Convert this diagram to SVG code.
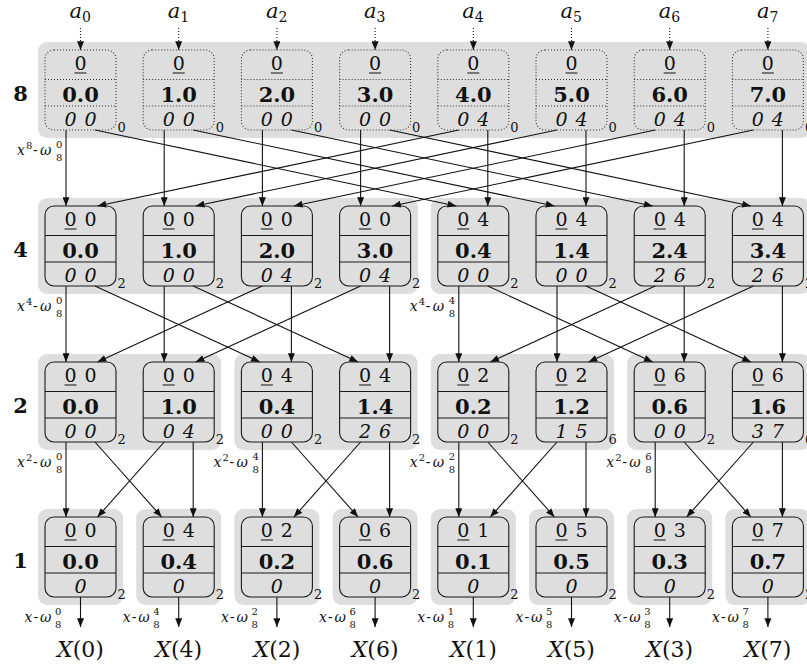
<svg xmlns="http://www.w3.org/2000/svg" width="807" height="671" viewBox="0 0 807 671">
<style>
.bg{fill:#dedede}
.nd{fill:none;stroke:#1a1a1a;stroke-width:1.1}
.dt{fill:none;stroke:#333;stroke-width:1.1;stroke-dasharray:1 2}
.r1{font-family:"DejaVu Serif",serif;font-size:19px;text-anchor:middle;fill:#111}
.r2{font-family:"DejaVu Serif",serif;font-weight:bold;font-size:21px;text-anchor:middle;fill:#111}
.r3{font-family:"DejaVu Serif",serif;font-style:italic;font-size:19px;text-anchor:middle;fill:#111}
.sb{font-family:"DejaVu Serif",serif;font-size:13px;fill:#111}
.ul{stroke:#111;stroke-width:1}
.cn line{stroke:#111;stroke-width:1.1;marker-end:url(#ah)}
.cn line.in{stroke-dasharray:1 2}
.lv{font-family:"DejaVu Serif",serif;font-weight:bold;font-size:21px;text-anchor:middle;fill:#111}
.w{font-family:"DejaVu Serif",serif;font-size:14px;fill:#111}
.i{font-style:italic}
.s{font-size:10px;font-style:normal}
.al{font-family:"DejaVu Serif",serif;font-size:21px;font-style:italic;fill:#111}
.as{font-size:14px;font-style:normal}
.X{font-family:"DejaVu Serif",serif;font-size:22px;text-anchor:middle;fill:#111}
</style>
<defs>
<marker id="ah" viewBox="0 0 10 8" refX="10" refY="4" markerWidth="9" markerHeight="7" markerUnits="userSpaceOnUse" orient="auto"><path d="M0,0 L10,4 L0,8 z" fill="#111"/></marker>
</defs>

<g id="backgrounds">
<rect class="bg" x="38" y="42" width="772" height="96" rx="9"/>
<rect class="bg" x="38" y="198" width="380" height="96" rx="9"/>
<rect class="bg" x="430.8" y="198" width="380" height="96" rx="9"/>
<rect class="bg" x="38" y="354" width="183.2" height="96" rx="9"/>
<rect class="bg" x="234.4" y="354" width="183.2" height="96" rx="9"/>
<rect class="bg" x="430.8" y="354" width="183.2" height="96" rx="9"/>
<rect class="bg" x="627.2" y="354" width="183.2" height="96" rx="9"/>
<rect class="bg" x="38" y="509" width="85" height="96" rx="9"/>
<rect class="bg" x="136.2" y="509" width="85" height="96" rx="9"/>
<rect class="bg" x="234.4" y="509" width="85" height="96" rx="9"/>
<rect class="bg" x="332.6" y="509" width="85" height="96" rx="9"/>
<rect class="bg" x="430.8" y="509" width="85" height="96" rx="9"/>
<rect class="bg" x="529" y="509" width="85" height="96" rx="9"/>
<rect class="bg" x="627.2" y="509" width="85" height="96" rx="9"/>
<rect class="bg" x="725.4" y="509" width="85" height="96" rx="9"/>
</g>

<g id="level-labels">
<text class="lv" x="20.5" y="101">8</text>
<text class="lv" x="20.5" y="257">4</text>
<text class="lv" x="20.5" y="413">2</text>
<text class="lv" x="20.5" y="568">1</text>
</g>

<g id="inputs">
<text class="al" y="18"><tspan x="69.5">a</tspan><tspan class="as" x="82" y="22">0</tspan></text>
<text class="al" y="18"><tspan x="167.7">a</tspan><tspan class="as" x="180.2" y="22">1</tspan></text>
<text class="al" y="18"><tspan x="265.9">a</tspan><tspan class="as" x="278.4" y="22">2</tspan></text>
<text class="al" y="18"><tspan x="364.1">a</tspan><tspan class="as" x="376.6" y="22">3</tspan></text>
<text class="al" y="18"><tspan x="462.3">a</tspan><tspan class="as" x="474.8" y="22">4</tspan></text>
<text class="al" y="18"><tspan x="560.5">a</tspan><tspan class="as" x="573" y="22">5</tspan></text>
<text class="al" y="18"><tspan x="658.7">a</tspan><tspan class="as" x="671.2" y="22">6</tspan></text>
<text class="al" y="18"><tspan x="756.9">a</tspan><tspan class="as" x="769.4" y="22">7</tspan></text>
</g>

<g id="connectors" class="cn">
<line class="in" x1="80.5" y1="28" x2="80.5" y2="50"/>
<line class="in" x1="178.7" y1="28" x2="178.7" y2="50"/>
<line class="in" x1="276.9" y1="28" x2="276.9" y2="50"/>
<line class="in" x1="375.1" y1="28" x2="375.1" y2="50"/>
<line class="in" x1="473.3" y1="28" x2="473.3" y2="50"/>
<line class="in" x1="571.5" y1="28" x2="571.5" y2="50"/>
<line class="in" x1="669.7" y1="28" x2="669.7" y2="50"/>
<line class="in" x1="767.9" y1="28" x2="767.9" y2="50"/>

<line x1="66" y1="130" x2="66" y2="206"/>
<line x1="95" y1="130" x2="456.3" y2="206"/>
<line x1="164.2" y1="130" x2="164.2" y2="206"/>
<line x1="193.2" y1="130" x2="554.5" y2="206"/>
<line x1="262.4" y1="130" x2="262.4" y2="206"/>
<line x1="291.4" y1="130" x2="652.7" y2="206"/>
<line x1="360.6" y1="130" x2="360.6" y2="206"/>
<line x1="389.6" y1="130" x2="750.9" y2="206"/>
<line x1="487.8" y1="130" x2="487.8" y2="206"/>
<line x1="458.8" y1="130" x2="97.5" y2="206"/>
<line x1="586" y1="130" x2="586" y2="206"/>
<line x1="557" y1="130" x2="195.7" y2="206"/>
<line x1="684.2" y1="130" x2="684.2" y2="206"/>
<line x1="655.2" y1="130" x2="293.9" y2="206"/>
<line x1="782.4" y1="130" x2="782.4" y2="206"/>
<line x1="753.4" y1="130" x2="392.1" y2="206"/>

<line x1="66" y1="286" x2="66" y2="362"/>
<line x1="95" y1="286" x2="259.9" y2="362"/>
<line x1="164.2" y1="286" x2="164.2" y2="362"/>
<line x1="193.2" y1="286" x2="358.1" y2="362"/>
<line x1="291.4" y1="286" x2="291.4" y2="362"/>
<line x1="262.4" y1="286" x2="97.5" y2="362"/>
<line x1="389.6" y1="286" x2="389.6" y2="362"/>
<line x1="360.6" y1="286" x2="195.7" y2="362"/>
<line x1="458.8" y1="286" x2="458.8" y2="362"/>
<line x1="487.8" y1="286" x2="652.7" y2="362"/>
<line x1="557" y1="286" x2="557" y2="362"/>
<line x1="586" y1="286" x2="750.9" y2="362"/>
<line x1="684.2" y1="286" x2="684.2" y2="362"/>
<line x1="655.2" y1="286" x2="490.3" y2="362"/>
<line x1="782.4" y1="286" x2="782.4" y2="362"/>
<line x1="753.4" y1="286" x2="588.5" y2="362"/>

<line x1="66" y1="442" x2="66" y2="517"/>
<line x1="95" y1="442" x2="161.7" y2="517"/>
<line x1="193.2" y1="442" x2="193.2" y2="517"/>
<line x1="164.2" y1="442" x2="97.5" y2="517"/>
<line x1="262.4" y1="442" x2="262.4" y2="517"/>
<line x1="291.4" y1="442" x2="358.1" y2="517"/>
<line x1="389.6" y1="442" x2="389.6" y2="517"/>
<line x1="360.6" y1="442" x2="293.9" y2="517"/>
<line x1="458.8" y1="442" x2="458.8" y2="517"/>
<line x1="487.8" y1="442" x2="554.5" y2="517"/>
<line x1="586" y1="442" x2="586" y2="517"/>
<line x1="557" y1="442" x2="490.3" y2="517"/>
<line x1="655.2" y1="442" x2="655.2" y2="517"/>
<line x1="684.2" y1="442" x2="750.9" y2="517"/>
<line x1="782.4" y1="442" x2="782.4" y2="517"/>
<line x1="753.4" y1="442" x2="686.7" y2="517"/>

<line x1="80.5" y1="597" x2="80.5" y2="627"/>
<line x1="178.7" y1="597" x2="178.7" y2="627"/>
<line x1="276.9" y1="597" x2="276.9" y2="627"/>
<line x1="375.1" y1="597" x2="375.1" y2="627"/>
<line x1="473.3" y1="597" x2="473.3" y2="627"/>
<line x1="571.5" y1="597" x2="571.5" y2="627"/>
<line x1="669.7" y1="597" x2="669.7" y2="627"/>
<line x1="767.9" y1="597" x2="767.9" y2="627"/>
</g>

<!-- level 8 -->
<g id="n8_0" transform="translate(80.5,50)"><rect class="dt" x="-35.5" y="0" width="71" height="80" rx="9"/><line class="dt" x1="-35.5" y1="29.5" x2="35.5" y2="29.5"/><line class="dt" x1="-35.5" y1="56" x2="35.5" y2="56"/><text class="r1" y="20">0</text><line class="ul" x1="-6" y1="23" x2="6" y2="23"/><text class="r2" y="52">0.0</text><text class="r3" y="76"><tspan x="-10">0</tspan><tspan x="10">0</tspan></text><text class="sb" x="37" y="82">0</text></g>
<g id="n8_1" transform="translate(178.7,50)"><rect class="dt" x="-35.5" y="0" width="71" height="80" rx="9"/><line class="dt" x1="-35.5" y1="29.5" x2="35.5" y2="29.5"/><line class="dt" x1="-35.5" y1="56" x2="35.5" y2="56"/><text class="r1" y="20">0</text><line class="ul" x1="-6" y1="23" x2="6" y2="23"/><text class="r2" y="52">1.0</text><text class="r3" y="76"><tspan x="-10">0</tspan><tspan x="10">0</tspan></text><text class="sb" x="37" y="82">0</text></g>
<g id="n8_2" transform="translate(276.9,50)"><rect class="dt" x="-35.5" y="0" width="71" height="80" rx="9"/><line class="dt" x1="-35.5" y1="29.5" x2="35.5" y2="29.5"/><line class="dt" x1="-35.5" y1="56" x2="35.5" y2="56"/><text class="r1" y="20">0</text><line class="ul" x1="-6" y1="23" x2="6" y2="23"/><text class="r2" y="52">2.0</text><text class="r3" y="76"><tspan x="-10">0</tspan><tspan x="10">0</tspan></text><text class="sb" x="37" y="82">0</text></g>
<g id="n8_3" transform="translate(375.1,50)"><rect class="dt" x="-35.5" y="0" width="71" height="80" rx="9"/><line class="dt" x1="-35.5" y1="29.5" x2="35.5" y2="29.5"/><line class="dt" x1="-35.5" y1="56" x2="35.5" y2="56"/><text class="r1" y="20">0</text><line class="ul" x1="-6" y1="23" x2="6" y2="23"/><text class="r2" y="52">3.0</text><text class="r3" y="76"><tspan x="-10">0</tspan><tspan x="10">0</tspan></text><text class="sb" x="37" y="82">0</text></g>
<g id="n8_4" transform="translate(473.3,50)"><rect class="dt" x="-35.5" y="0" width="71" height="80" rx="9"/><line class="dt" x1="-35.5" y1="29.5" x2="35.5" y2="29.5"/><line class="dt" x1="-35.5" y1="56" x2="35.5" y2="56"/><text class="r1" y="20">0</text><line class="ul" x1="-6" y1="23" x2="6" y2="23"/><text class="r2" y="52">4.0</text><text class="r3" y="76"><tspan x="-10">0</tspan><tspan x="10">4</tspan></text><text class="sb" x="37" y="82">0</text></g>
<g id="n8_5" transform="translate(571.5,50)"><rect class="dt" x="-35.5" y="0" width="71" height="80" rx="9"/><line class="dt" x1="-35.5" y1="29.5" x2="35.5" y2="29.5"/><line class="dt" x1="-35.5" y1="56" x2="35.5" y2="56"/><text class="r1" y="20">0</text><line class="ul" x1="-6" y1="23" x2="6" y2="23"/><text class="r2" y="52">5.0</text><text class="r3" y="76"><tspan x="-10">0</tspan><tspan x="10">4</tspan></text><text class="sb" x="37" y="82">0</text></g>
<g id="n8_6" transform="translate(669.7,50)"><rect class="dt" x="-35.5" y="0" width="71" height="80" rx="9"/><line class="dt" x1="-35.5" y1="29.5" x2="35.5" y2="29.5"/><line class="dt" x1="-35.5" y1="56" x2="35.5" y2="56"/><text class="r1" y="20">0</text><line class="ul" x1="-6" y1="23" x2="6" y2="23"/><text class="r2" y="52">6.0</text><text class="r3" y="76"><tspan x="-10">0</tspan><tspan x="10">4</tspan></text><text class="sb" x="37" y="82">0</text></g>
<g id="n8_7" transform="translate(767.9,50)"><rect class="dt" x="-35.5" y="0" width="71" height="80" rx="9"/><line class="dt" x1="-35.5" y1="29.5" x2="35.5" y2="29.5"/><line class="dt" x1="-35.5" y1="56" x2="35.5" y2="56"/><text class="r1" y="20">0</text><line class="ul" x1="-6" y1="23" x2="6" y2="23"/><text class="r2" y="52">7.0</text><text class="r3" y="76"><tspan x="-10">0</tspan><tspan x="10">4</tspan></text><text class="sb" x="37" y="82">0</text></g>

<!-- level 4 -->
<g id="n4_0" transform="translate(80.5,206)"><rect class="nd" x="-35.5" y="0" width="71" height="80" rx="9"/><line class="nd" x1="-35.5" y1="29.5" x2="35.5" y2="29.5"/><line class="nd" x1="-35.5" y1="56" x2="35.5" y2="56"/><text class="r1" y="20"><tspan x="-10">0</tspan><tspan x="10">0</tspan></text><line class="ul" x1="-16" y1="23" x2="-4" y2="23"/><text class="r2" y="52">0.0</text><text class="r3" y="76"><tspan x="-10">0</tspan><tspan x="10">0</tspan></text><text class="sb" x="37" y="82">2</text></g>
<g id="n4_1" transform="translate(178.7,206)"><rect class="nd" x="-35.5" y="0" width="71" height="80" rx="9"/><line class="nd" x1="-35.5" y1="29.5" x2="35.5" y2="29.5"/><line class="nd" x1="-35.5" y1="56" x2="35.5" y2="56"/><text class="r1" y="20"><tspan x="-10">0</tspan><tspan x="10">0</tspan></text><line class="ul" x1="-16" y1="23" x2="-4" y2="23"/><text class="r2" y="52">1.0</text><text class="r3" y="76"><tspan x="-10">0</tspan><tspan x="10">0</tspan></text><text class="sb" x="37" y="82">2</text></g>
<g id="n4_2" transform="translate(276.9,206)"><rect class="nd" x="-35.5" y="0" width="71" height="80" rx="9"/><line class="nd" x1="-35.5" y1="29.5" x2="35.5" y2="29.5"/><line class="nd" x1="-35.5" y1="56" x2="35.5" y2="56"/><text class="r1" y="20"><tspan x="-10">0</tspan><tspan x="10">0</tspan></text><line class="ul" x1="-16" y1="23" x2="-4" y2="23"/><text class="r2" y="52">2.0</text><text class="r3" y="76"><tspan x="-10">0</tspan><tspan x="10">4</tspan></text><text class="sb" x="37" y="82">2</text></g>
<g id="n4_3" transform="translate(375.1,206)"><rect class="nd" x="-35.5" y="0" width="71" height="80" rx="9"/><line class="nd" x1="-35.5" y1="29.5" x2="35.5" y2="29.5"/><line class="nd" x1="-35.5" y1="56" x2="35.5" y2="56"/><text class="r1" y="20"><tspan x="-10">0</tspan><tspan x="10">0</tspan></text><line class="ul" x1="-16" y1="23" x2="-4" y2="23"/><text class="r2" y="52">3.0</text><text class="r3" y="76"><tspan x="-10">0</tspan><tspan x="10">4</tspan></text><text class="sb" x="37" y="82">2</text></g>
<g id="n4_4" transform="translate(473.3,206)"><rect class="nd" x="-35.5" y="0" width="71" height="80" rx="9"/><line class="nd" x1="-35.5" y1="29.5" x2="35.5" y2="29.5"/><line class="nd" x1="-35.5" y1="56" x2="35.5" y2="56"/><text class="r1" y="20"><tspan x="-10">0</tspan><tspan x="10">4</tspan></text><line class="ul" x1="-16" y1="23" x2="-4" y2="23"/><text class="r2" y="52">0.4</text><text class="r3" y="76"><tspan x="-10">0</tspan><tspan x="10">0</tspan></text><text class="sb" x="37" y="82">2</text></g>
<g id="n4_5" transform="translate(571.5,206)"><rect class="nd" x="-35.5" y="0" width="71" height="80" rx="9"/><line class="nd" x1="-35.5" y1="29.5" x2="35.5" y2="29.5"/><line class="nd" x1="-35.5" y1="56" x2="35.5" y2="56"/><text class="r1" y="20"><tspan x="-10">0</tspan><tspan x="10">4</tspan></text><line class="ul" x1="-16" y1="23" x2="-4" y2="23"/><text class="r2" y="52">1.4</text><text class="r3" y="76"><tspan x="-10">0</tspan><tspan x="10">0</tspan></text><text class="sb" x="37" y="82">2</text></g>
<g id="n4_6" transform="translate(669.7,206)"><rect class="nd" x="-35.5" y="0" width="71" height="80" rx="9"/><line class="nd" x1="-35.5" y1="29.5" x2="35.5" y2="29.5"/><line class="nd" x1="-35.5" y1="56" x2="35.5" y2="56"/><text class="r1" y="20"><tspan x="-10">0</tspan><tspan x="10">4</tspan></text><line class="ul" x1="-16" y1="23" x2="-4" y2="23"/><text class="r2" y="52">2.4</text><text class="r3" y="76"><tspan x="-10">2</tspan><tspan x="10">6</tspan></text><text class="sb" x="37" y="82">2</text></g>
<g id="n4_7" transform="translate(767.9,206)"><rect class="nd" x="-35.5" y="0" width="71" height="80" rx="9"/><line class="nd" x1="-35.5" y1="29.5" x2="35.5" y2="29.5"/><line class="nd" x1="-35.5" y1="56" x2="35.5" y2="56"/><text class="r1" y="20"><tspan x="-10">0</tspan><tspan x="10">4</tspan></text><line class="ul" x1="-16" y1="23" x2="-4" y2="23"/><text class="r2" y="52">3.4</text><text class="r3" y="76"><tspan x="-10">2</tspan><tspan x="10">6</tspan></text><text class="sb" x="37" y="82">2</text></g>

<!-- level 2 -->
<g id="n2_0" transform="translate(80.5,362)"><rect class="nd" x="-35.5" y="0" width="71" height="80" rx="9"/><line class="nd" x1="-35.5" y1="29.5" x2="35.5" y2="29.5"/><line class="nd" x1="-35.5" y1="56" x2="35.5" y2="56"/><text class="r1" y="20"><tspan x="-10">0</tspan><tspan x="10">0</tspan></text><line class="ul" x1="-16" y1="23" x2="-4" y2="23"/><text class="r2" y="52">0.0</text><text class="r3" y="76"><tspan x="-10">0</tspan><tspan x="10">0</tspan></text><text class="sb" x="37" y="82">2</text></g>
<g id="n2_1" transform="translate(178.7,362)"><rect class="nd" x="-35.5" y="0" width="71" height="80" rx="9"/><line class="nd" x1="-35.5" y1="29.5" x2="35.5" y2="29.5"/><line class="nd" x1="-35.5" y1="56" x2="35.5" y2="56"/><text class="r1" y="20"><tspan x="-10">0</tspan><tspan x="10">0</tspan></text><line class="ul" x1="-16" y1="23" x2="-4" y2="23"/><text class="r2" y="52">1.0</text><text class="r3" y="76"><tspan x="-10">0</tspan><tspan x="10">4</tspan></text><text class="sb" x="37" y="82">2</text></g>
<g id="n2_2" transform="translate(276.9,362)"><rect class="nd" x="-35.5" y="0" width="71" height="80" rx="9"/><line class="nd" x1="-35.5" y1="29.5" x2="35.5" y2="29.5"/><line class="nd" x1="-35.5" y1="56" x2="35.5" y2="56"/><text class="r1" y="20"><tspan x="-10">0</tspan><tspan x="10">4</tspan></text><line class="ul" x1="-16" y1="23" x2="-4" y2="23"/><text class="r2" y="52">0.4</text><text class="r3" y="76"><tspan x="-10">0</tspan><tspan x="10">0</tspan></text><text class="sb" x="37" y="82">2</text></g>
<g id="n2_3" transform="translate(375.1,362)"><rect class="nd" x="-35.5" y="0" width="71" height="80" rx="9"/><line class="nd" x1="-35.5" y1="29.5" x2="35.5" y2="29.5"/><line class="nd" x1="-35.5" y1="56" x2="35.5" y2="56"/><text class="r1" y="20"><tspan x="-10">0</tspan><tspan x="10">4</tspan></text><line class="ul" x1="-16" y1="23" x2="-4" y2="23"/><text class="r2" y="52">1.4</text><text class="r3" y="76"><tspan x="-10">2</tspan><tspan x="10">6</tspan></text><text class="sb" x="37" y="82">2</text></g>
<g id="n2_4" transform="translate(473.3,362)"><rect class="nd" x="-35.5" y="0" width="71" height="80" rx="9"/><line class="nd" x1="-35.5" y1="29.5" x2="35.5" y2="29.5"/><line class="nd" x1="-35.5" y1="56" x2="35.5" y2="56"/><text class="r1" y="20"><tspan x="-10">0</tspan><tspan x="10">2</tspan></text><line class="ul" x1="-16" y1="23" x2="-4" y2="23"/><text class="r2" y="52">0.2</text><text class="r3" y="76"><tspan x="-10">0</tspan><tspan x="10">0</tspan></text><text class="sb" x="37" y="82">2</text></g>
<g id="n2_5" transform="translate(571.5,362)"><rect class="nd" x="-35.5" y="0" width="71" height="80" rx="9"/><line class="nd" x1="-35.5" y1="29.5" x2="35.5" y2="29.5"/><line class="nd" x1="-35.5" y1="56" x2="35.5" y2="56"/><text class="r1" y="20"><tspan x="-10">0</tspan><tspan x="10">2</tspan></text><line class="ul" x1="-16" y1="23" x2="-4" y2="23"/><text class="r2" y="52">1.2</text><text class="r3" y="76"><tspan x="-10">1</tspan><tspan x="10">5</tspan></text><text class="sb" x="37" y="82">6</text></g>
<g id="n2_6" transform="translate(669.7,362)"><rect class="nd" x="-35.5" y="0" width="71" height="80" rx="9"/><line class="nd" x1="-35.5" y1="29.5" x2="35.5" y2="29.5"/><line class="nd" x1="-35.5" y1="56" x2="35.5" y2="56"/><text class="r1" y="20"><tspan x="-10">0</tspan><tspan x="10">6</tspan></text><line class="ul" x1="-16" y1="23" x2="-4" y2="23"/><text class="r2" y="52">0.6</text><text class="r3" y="76"><tspan x="-10">0</tspan><tspan x="10">0</tspan></text><text class="sb" x="37" y="82">2</text></g>
<g id="n2_7" transform="translate(767.9,362)"><rect class="nd" x="-35.5" y="0" width="71" height="80" rx="9"/><line class="nd" x1="-35.5" y1="29.5" x2="35.5" y2="29.5"/><line class="nd" x1="-35.5" y1="56" x2="35.5" y2="56"/><text class="r1" y="20"><tspan x="-10">0</tspan><tspan x="10">6</tspan></text><line class="ul" x1="-16" y1="23" x2="-4" y2="23"/><text class="r2" y="52">1.6</text><text class="r3" y="76"><tspan x="-10">3</tspan><tspan x="10">7</tspan></text><text class="sb" x="37" y="82">6</text></g>

<!-- level 1 -->
<g id="n1_0" transform="translate(80.5,517)"><rect class="nd" x="-35.5" y="0" width="71" height="80" rx="9"/><line class="nd" x1="-35.5" y1="29.5" x2="35.5" y2="29.5"/><line class="nd" x1="-35.5" y1="56" x2="35.5" y2="56"/><text class="r1" y="20"><tspan x="-10">0</tspan><tspan x="10">0</tspan></text><line class="ul" x1="-16" y1="23" x2="-4" y2="23"/><text class="r2" y="52">0.0</text><text class="r3" y="76">0</text><text class="sb" x="37" y="82">2</text></g>
<g id="n1_1" transform="translate(178.7,517)"><rect class="nd" x="-35.5" y="0" width="71" height="80" rx="9"/><line class="nd" x1="-35.5" y1="29.5" x2="35.5" y2="29.5"/><line class="nd" x1="-35.5" y1="56" x2="35.5" y2="56"/><text class="r1" y="20"><tspan x="-10">0</tspan><tspan x="10">4</tspan></text><line class="ul" x1="-16" y1="23" x2="-4" y2="23"/><text class="r2" y="52">0.4</text><text class="r3" y="76">0</text><text class="sb" x="37" y="82">2</text></g>
<g id="n1_2" transform="translate(276.9,517)"><rect class="nd" x="-35.5" y="0" width="71" height="80" rx="9"/><line class="nd" x1="-35.5" y1="29.5" x2="35.5" y2="29.5"/><line class="nd" x1="-35.5" y1="56" x2="35.5" y2="56"/><text class="r1" y="20"><tspan x="-10">0</tspan><tspan x="10">2</tspan></text><line class="ul" x1="-16" y1="23" x2="-4" y2="23"/><text class="r2" y="52">0.2</text><text class="r3" y="76">0</text><text class="sb" x="37" y="82">2</text></g>
<g id="n1_3" transform="translate(375.1,517)"><rect class="nd" x="-35.5" y="0" width="71" height="80" rx="9"/><line class="nd" x1="-35.5" y1="29.5" x2="35.5" y2="29.5"/><line class="nd" x1="-35.5" y1="56" x2="35.5" y2="56"/><text class="r1" y="20"><tspan x="-10">0</tspan><tspan x="10">6</tspan></text><line class="ul" x1="-16" y1="23" x2="-4" y2="23"/><text class="r2" y="52">0.6</text><text class="r3" y="76">0</text><text class="sb" x="37" y="82">2</text></g>
<g id="n1_4" transform="translate(473.3,517)"><rect class="nd" x="-35.5" y="0" width="71" height="80" rx="9"/><line class="nd" x1="-35.5" y1="29.5" x2="35.5" y2="29.5"/><line class="nd" x1="-35.5" y1="56" x2="35.5" y2="56"/><text class="r1" y="20"><tspan x="-10">0</tspan><tspan x="10">1</tspan></text><line class="ul" x1="-16" y1="23" x2="-4" y2="23"/><text class="r2" y="52">0.1</text><text class="r3" y="76">0</text><text class="sb" x="37" y="82">2</text></g>
<g id="n1_5" transform="translate(571.5,517)"><rect class="nd" x="-35.5" y="0" width="71" height="80" rx="9"/><line class="nd" x1="-35.5" y1="29.5" x2="35.5" y2="29.5"/><line class="nd" x1="-35.5" y1="56" x2="35.5" y2="56"/><text class="r1" y="20"><tspan x="-10">0</tspan><tspan x="10">5</tspan></text><line class="ul" x1="-16" y1="23" x2="-4" y2="23"/><text class="r2" y="52">0.5</text><text class="r3" y="76">0</text><text class="sb" x="37" y="82">2</text></g>
<g id="n1_6" transform="translate(669.7,517)"><rect class="nd" x="-35.5" y="0" width="71" height="80" rx="9"/><line class="nd" x1="-35.5" y1="29.5" x2="35.5" y2="29.5"/><line class="nd" x1="-35.5" y1="56" x2="35.5" y2="56"/><text class="r1" y="20"><tspan x="-10">0</tspan><tspan x="10">3</tspan></text><line class="ul" x1="-16" y1="23" x2="-4" y2="23"/><text class="r2" y="52">0.3</text><text class="r3" y="76">0</text><text class="sb" x="37" y="82">2</text></g>
<g id="n1_7" transform="translate(767.9,517)"><rect class="nd" x="-35.5" y="0" width="71" height="80" rx="9"/><line class="nd" x1="-35.5" y1="29.5" x2="35.5" y2="29.5"/><line class="nd" x1="-35.5" y1="56" x2="35.5" y2="56"/><text class="r1" y="20"><tspan x="-10">0</tspan><tspan x="10">7</tspan></text><line class="ul" x1="-16" y1="23" x2="-4" y2="23"/><text class="r2" y="52">0.7</text><text class="r3" y="76">0</text><text class="sb" x="37" y="82">2</text></g>

<g id="edge-labels">
<text class="w" y="155"><tspan class="i" x="17">x</tspan><tspan class="s" x="26" y="149">8</tspan><tspan x="33" y="155">-</tspan><tspan class="i" x="40">ω</tspan><tspan class="s" x="56" y="148">0</tspan><tspan class="s" x="56" y="161">8</tspan></text>
<text class="w" y="311"><tspan class="i" x="17">x</tspan><tspan class="s" x="26" y="305">4</tspan><tspan x="33" y="311">-</tspan><tspan class="i" x="40">ω</tspan><tspan class="s" x="56" y="304">0</tspan><tspan class="s" x="56" y="317">8</tspan></text>
<text class="w" y="311"><tspan class="i" x="409.8">x</tspan><tspan class="s" x="418.8" y="305">4</tspan><tspan x="425.8" y="311">-</tspan><tspan class="i" x="432.8">ω</tspan><tspan class="s" x="448.8" y="304">4</tspan><tspan class="s" x="448.8" y="317">8</tspan></text>
<text class="w" y="467"><tspan class="i" x="17">x</tspan><tspan class="s" x="26" y="461">2</tspan><tspan x="33" y="467">-</tspan><tspan class="i" x="40">ω</tspan><tspan class="s" x="56" y="460">0</tspan><tspan class="s" x="56" y="473">8</tspan></text>
<text class="w" y="467"><tspan class="i" x="213.4">x</tspan><tspan class="s" x="222.4" y="461">2</tspan><tspan x="229.4" y="467">-</tspan><tspan class="i" x="236.4">ω</tspan><tspan class="s" x="252.4" y="460">4</tspan><tspan class="s" x="252.4" y="473">8</tspan></text>
<text class="w" y="467"><tspan class="i" x="409.8">x</tspan><tspan class="s" x="418.8" y="461">2</tspan><tspan x="425.8" y="467">-</tspan><tspan class="i" x="432.8">ω</tspan><tspan class="s" x="448.8" y="460">2</tspan><tspan class="s" x="448.8" y="473">8</tspan></text>
<text class="w" y="467"><tspan class="i" x="606.2">x</tspan><tspan class="s" x="615.2" y="461">2</tspan><tspan x="622.2" y="467">-</tspan><tspan class="i" x="629.2">ω</tspan><tspan class="s" x="645.2" y="460">6</tspan><tspan class="s" x="645.2" y="473">8</tspan></text>
<text class="w" y="622"><tspan class="i" x="24.5">x</tspan><tspan x="33.5">-</tspan><tspan class="i" x="40">ω</tspan><tspan class="s" x="55" y="615">0</tspan><tspan class="s" x="55" y="628">8</tspan></text>
<text class="w" y="622"><tspan class="i" x="122.7">x</tspan><tspan x="131.7">-</tspan><tspan class="i" x="138.2">ω</tspan><tspan class="s" x="153.2" y="615">4</tspan><tspan class="s" x="153.2" y="628">8</tspan></text>
<text class="w" y="622"><tspan class="i" x="220.9">x</tspan><tspan x="229.9">-</tspan><tspan class="i" x="236.4">ω</tspan><tspan class="s" x="251.4" y="615">2</tspan><tspan class="s" x="251.4" y="628">8</tspan></text>
<text class="w" y="622"><tspan class="i" x="319.1">x</tspan><tspan x="328.1">-</tspan><tspan class="i" x="334.6">ω</tspan><tspan class="s" x="349.6" y="615">6</tspan><tspan class="s" x="349.6" y="628">8</tspan></text>
<text class="w" y="622"><tspan class="i" x="417.3">x</tspan><tspan x="426.3">-</tspan><tspan class="i" x="432.8">ω</tspan><tspan class="s" x="447.8" y="615">1</tspan><tspan class="s" x="447.8" y="628">8</tspan></text>
<text class="w" y="622"><tspan class="i" x="515.5">x</tspan><tspan x="524.5">-</tspan><tspan class="i" x="531">ω</tspan><tspan class="s" x="546" y="615">5</tspan><tspan class="s" x="546" y="628">8</tspan></text>
<text class="w" y="622"><tspan class="i" x="613.7">x</tspan><tspan x="622.7">-</tspan><tspan class="i" x="629.2">ω</tspan><tspan class="s" x="644.2" y="615">3</tspan><tspan class="s" x="644.2" y="628">8</tspan></text>
<text class="w" y="622"><tspan class="i" x="711.9">x</tspan><tspan x="720.9">-</tspan><tspan class="i" x="727.4">ω</tspan><tspan class="s" x="742.4" y="615">7</tspan><tspan class="s" x="742.4" y="628">8</tspan></text>
</g>

<g id="outputs">
<text class="X" x="80.5" y="657"><tspan class="i">X</tspan>(0)</text>
<text class="X" x="178.7" y="657"><tspan class="i">X</tspan>(4)</text>
<text class="X" x="276.9" y="657"><tspan class="i">X</tspan>(2)</text>
<text class="X" x="375.1" y="657"><tspan class="i">X</tspan>(6)</text>
<text class="X" x="473.3" y="657"><tspan class="i">X</tspan>(1)</text>
<text class="X" x="571.5" y="657"><tspan class="i">X</tspan>(5)</text>
<text class="X" x="669.7" y="657"><tspan class="i">X</tspan>(3)</text>
<text class="X" x="767.9" y="657"><tspan class="i">X</tspan>(7)</text>
</g>
</svg>
